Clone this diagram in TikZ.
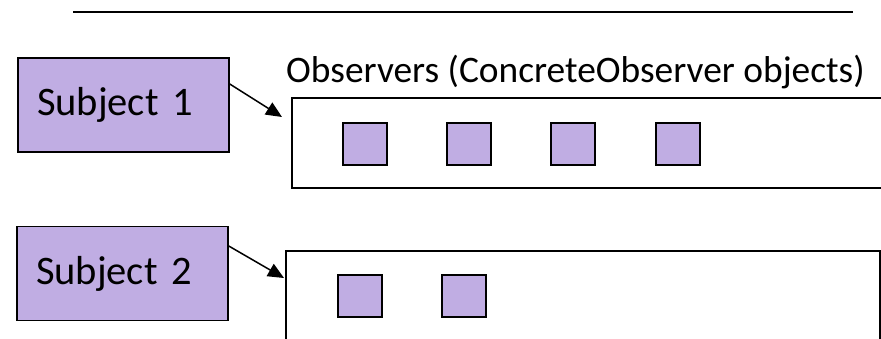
\documentclass[tikz,border=0pt]{standalone}
\usepackage{fontspec}
\setmainfont{Carlito}
\usetikzlibrary{arrows.meta}
\definecolor{lav}{RGB}{192,173,227}
\begin{document}
\begin{tikzpicture}[x=1pt,y=-1pt,
  subj/.style={draw=black,line width=1.5pt,fill=lav,minimum width=211pt,minimum height=94pt,
    text width=173pt,align=left,inner sep=0pt,font=\fontsize{40.5}{48}\selectfont},
  obsbox/.style={draw=black,line width=1.5pt},
  obj/.style={draw=black,line width=2pt,fill=lav,minimum width=44pt,minimum height=42pt,inner sep=0pt},
  conn/.style={line width=1.5pt,-{Triangle[length=16pt,width=14pt]}}]
\useasboundingbox (0,0) rectangle (881,338);
\clip (0,0) rectangle (881,338);
\draw[line width=2pt] (73,12) coordinate (la) -- (853,12) coordinate (lb);
\node[subj] (s1) at (123.5,105) {Subject 1};
\node[subj] (s2) at (122.5,273.5) {Subject 2};
\node[anchor=base west,inner sep=0pt,font=\fontsize{37.4}{44}\selectfont] (title) at (286,82) {Observers (ConcreteObserver objects)};
\draw[obsbox] (292,98) coordinate (o1nw) rectangle (905,188) coordinate (o1se);
\draw[obsbox] (286,251) coordinate (o2nw) rectangle (880,360) coordinate (o2se);
\node[obj] (a1) at (364.5,143.5) {};
\node[obj] (a2) at (469,143.5) {};
\node[obj] (a3) at (573,143.5) {};
\node[obj] (a4) at (678,143.5) {};
\node[obj] (b1) at (359.5,296) {};
\node[obj] (b2) at (464,296) {};
\draw[conn] ([yshift=21pt]s1.east) -- ([xshift=-10pt,yshift=-19pt]o1nw);
\draw[conn] ([yshift=27.5pt]s2.east) -- ([xshift=-2pt,yshift=-27pt]o2nw);
\end{tikzpicture}
\end{document}
